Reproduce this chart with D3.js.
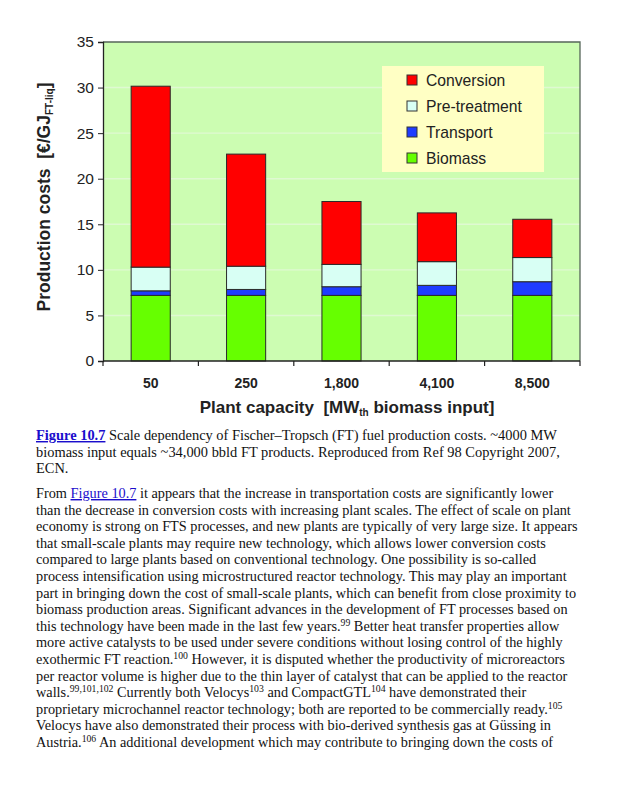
<!DOCTYPE html>
<html><head><meta charset="utf-8">
<script src="https://cdnjs.cloudflare.com/ajax/libs/d3/7.8.5/d3.min.js"></script>
<style>
html,body{margin:0;padding:0;background:#fff;}
svg{display:block;}
</style></head>
<body>
<script>
// ---- data ----
const categories = ["50", "250", "1,800", "4,100", "8,500"];
const seriesNames = ["Biomass", "Transport", "Pre-treatment", "Conversion"];
const biomass = [7.2, 7.2, 7.2, 7.2, 7.2];
const transport = [0.5, 0.65, 0.95, 1.1, 1.5];
const pretreatment = [2.6, 2.55, 2.45, 2.6, 2.65];
const conversion = [19.85, 12.3, 6.9, 5.35, 4.2];
const yTicks = [0, 5, 10, 15, 20, 25, 30, 35];
const legendOrder = ["Conversion", "Pre-treatment", "Transport", "Biomass"];
const colors = {"Biomass": "#66ff00", "Transport": "#1e3cff", "Pre-treatment": "#d8fff4", "Conversion": "#ff0000"};

const W = 617, H = 800;
const svg = d3.select("body").append("svg").attr("width", W).attr("height", H);

const plot = {l: 103, r: 580, t: 42, b: 361};
const x = d3.scaleBand().domain(categories).range([plot.l, plot.r]).paddingInner(0.59).paddingOuter(0.295);
const y = d3.scaleLinear().domain([0, 35]).range([plot.b, plot.t]);

// background
svg.append("rect").attr("x", plot.l).attr("y", plot.t).attr("width", plot.r - plot.l).attr("height", plot.b - plot.t)
  .attr("fill", "#ccfdb2");
// gridlines
svg.append("g").selectAll("line").data(yTicks.filter(d => d > 0 && d < 35)).join("line")
  .attr("x1", plot.l).attr("x2", plot.r).attr("y1", d => y(d)).attr("y2", d => y(d))
  .attr("stroke", "#dff9d2").attr("stroke-width", 1.4);
// border top/right
svg.append("path").attr("d", `M${plot.l},${plot.t}H${plot.r}V${plot.b}`).attr("fill", "none").attr("stroke", "#56665a").attr("stroke-width", 1.3);

// bars
const rows = categories.map((c, i) => ({cat: c, "Biomass": biomass[i], "Transport": transport[i], "Pre-treatment": pretreatment[i], "Conversion": conversion[i]}));
const stack = d3.stack().keys(seriesNames)(rows);
svg.append("g").selectAll("g").data(stack).join("g").attr("fill", d => colors[d.key])
  .selectAll("rect").data(d => d).join("rect")
  .attr("x", d => x(d.data.cat)).attr("width", x.bandwidth())
  .attr("y", d => y(d[1])).attr("height", d => y(d[0]) - y(d[1]))
  .attr("stroke", "#2a2a2a").attr("stroke-width", 1);

// y axis
const yAxis = d3.axisLeft(y).tickValues(yTicks).tickSize(5).tickPadding(4).tickFormat(d3.format("d"));
const gy = svg.append("g").attr("transform", `translate(${plot.l},0)`).call(yAxis);
gy.select(".domain").attr("stroke", "#222").attr("stroke-width", 1.3);
gy.selectAll(".tick line").attr("stroke", "#222");
gy.selectAll(".tick text").attr("font-family", "Liberation Sans, Arial, sans-serif").attr("font-size", 15.5).attr("fill", "#222");

// x axis
const gx = svg.append("g").attr("transform", `translate(0,${plot.b})`);
gx.append("line").attr("x1", plot.l).attr("x2", plot.r).attr("stroke", "#222").attr("stroke-width", 1.3);
gx.selectAll("line.tk").data(d3.range(0, categories.length + 1)).join("line").attr("class", "tk")
  .attr("x1", i => plot.l + i * x.step()).attr("x2", i => plot.l + i * x.step())
  .attr("y1", 0).attr("y2", 5).attr("stroke", "#222").attr("stroke-width", 1.2);
gx.selectAll("text").data(categories).join("text")
  .attr("x", d => x(d) + x.bandwidth() / 2).attr("y", 27)
  .attr("text-anchor", "middle").attr("font-family", "Liberation Sans, Arial, sans-serif")
  .attr("font-weight", "bold").attr("font-size", 14).attr("fill", "#222").text(d => d);

// x title
const xt = svg.append("text").attr("x", 347).attr("y", 413).attr("text-anchor", "middle")
  .attr("font-family", "Liberation Sans, Arial, sans-serif").attr("font-weight", "bold").attr("font-size", 17).attr("fill", "#222");
xt.append("tspan").text("Plant capacity\u00a0\u00a0[MW");
xt.append("tspan").attr("font-size", 10).attr("dy", 3).text("th");
xt.append("tspan").attr("dy", -3).text(" biomass input]");

// y title
const yt = svg.append("text").attr("transform", "translate(50,197) rotate(-90)").attr("text-anchor", "middle")
  .attr("font-family", "Liberation Sans, Arial, sans-serif").attr("font-weight", "bold").attr("font-size", 17.5).attr("fill", "#222");
yt.append("tspan").text("Production costs\u00a0\u00a0[€/GJ");
yt.append("tspan").attr("font-size", 10).attr("dy", 3).text("FT-liq");
yt.append("tspan").attr("dy", -3).text("]");

// legend
const lg = svg.append("g");
lg.append("rect").attr("x", 382).attr("y", 66).attr("width", 162).attr("height", 106).attr("fill", "#ffffc4");
const li = lg.selectAll("g").data(legendOrder).join("g").attr("transform", (d, i) => `translate(407,${80 + i * 26})`);
li.append("rect").attr("x", 0).attr("y", -5).attr("width", 10).attr("height", 10).attr("fill", d => colors[d]).attr("stroke", "#333").attr("stroke-width", 1);
li.append("text").attr("x", 19).attr("y", 5.5).attr("font-family", "Liberation Sans, Arial, sans-serif").attr("font-size", 15.7).attr("fill", "#222").text(d => d);

// ---- caption & body text ----
const captionLines = [
  [{t: "Figure 10.7", link: true, bold: true}, {t: " Scale dependency of Fischer–Tropsch (FT) fuel production costs. ~4000 MW"}],
  [{t: "biomass input equals ~34,000 bbld FT products. Reproduced from Ref 98 Copyright 2007,"}],
  [{t: "ECN."}]
];
const bodyLines = [
  [{t: "From "}, {t: "Figure 10.7", link: true}, {t: " it appears that the increase in transportation costs are significantly lower"}],
  [{t: "than the decrease in conversion costs with increasing plant scales. The effect of scale on plant"}],
  [{t: "economy is strong on FTS processes, and new plants are typically of very large size. It appears"}],
  [{t: "that small-scale plants may require new technology, which allows lower conversion costs"}],
  [{t: "compared to large plants based on conventional technology. One possibility is so-called"}],
  [{t: "process intensification using microstructured reactor technology. This may play an important"}],
  [{t: "part in bringing down the cost of small-scale plants, which can benefit from close proximity to"}],
  [{t: "biomass production areas. Significant advances in the development of FT processes based on"}],
  [{t: "this technology have been made in the last few years."}, {t: "99", sup: true}, {t: " Better heat transfer properties allow"}],
  [{t: "more active catalysts to be used under severe conditions without losing control of the highly"}],
  [{t: "exothermic FT reaction."}, {t: "100", sup: true}, {t: " However, it is disputed whether the productivity of microreactors"}],
  [{t: "per reactor volume is higher due to the thin layer of catalyst that can be applied to the reactor"}],
  [{t: "walls."}, {t: "99,101,102", sup: true}, {t: " Currently both Velocys"}, {t: "103", sup: true}, {t: " and CompactGTL"}, {t: "104", sup: true}, {t: " have demonstrated their"}],
  [{t: "proprietary microchannel reactor technology; both are reported to be commercially ready."}, {t: "105", sup: true}],
  [{t: "Velocys have also demonstrated their process with bio-derived synthesis gas at Güssing in"}],
  [{t: "Austria."}, {t: "106", sup: true}, {t: " An additional development which may contribute to bringing down the costs of"}]
];

function drawLines(lines, x0, y0, lh, fs) {
  const g = svg.append("g").attr("font-family", "Liberation Serif, Times New Roman, serif").attr("font-size", fs).attr("fill", "#111");
  lines.forEach((segs, i) => {
    const tx = g.append("text").attr("x", x0).attr("y", y0 + i * lh);
    let up = false;
    segs.forEach(s => {
      const sp = tx.append("tspan").text(s.t);
      if (s.sup && !up) { sp.attr("dy", -5).attr("font-size", fs * 0.68); up = true; }
      else if (s.sup) { sp.attr("font-size", fs * 0.68); }
      else if (up) { sp.attr("dy", 5); up = false; }
      if (s.link) sp.attr("fill", "#1a0dcc").attr("text-decoration", "underline");
      if (s.bold) sp.attr("font-weight", "bold");
    });
  });
  return g;
}
const cap = drawLines(captionLines, 36, 440, 16.6, 14);
const body = drawLines(bodyLines, 36, 498, 16.6, 14);
// fit font size to the measured reference line width
const refW = body.selectAll("text").nodes()[2].getComputedTextLength();
const fs = 14 * 542 / refW;
cap.remove(); body.remove();
drawLines(captionLines, 36, 440, 16.6, fs * 1.01);
drawLines(bodyLines, 36, 498, 16.6, fs);
</script>
</body></html>
